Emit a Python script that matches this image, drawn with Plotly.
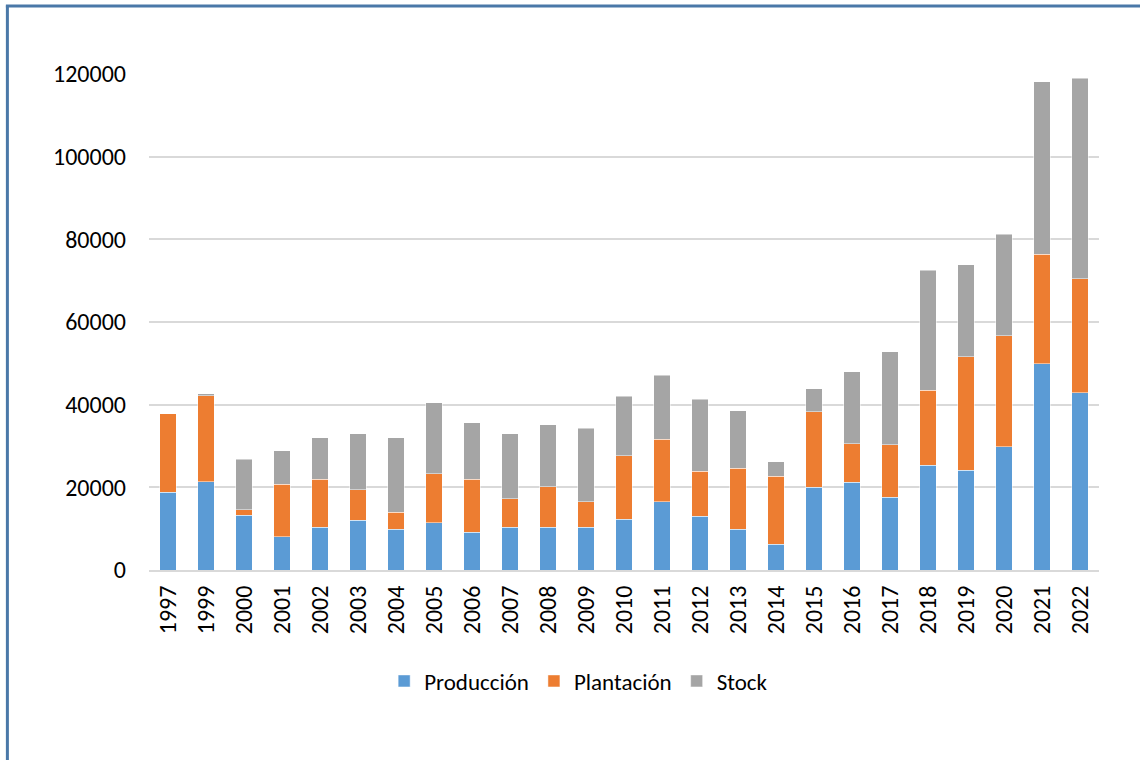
import plotly.graph_objects as go

years = ["1997", "1999", "2000", "2001", "2002", "2003", "2004", "2005", "2006",
         "2007", "2008", "2009", "2010", "2011", "2012", "2013", "2014", "2015",
         "2016", "2017", "2018", "2019", "2020", "2021", "2022"]

produccion = [18800, 21400, 13300, 8100, 10400, 12000, 9800, 11400, 9100,
              10400, 10400, 10400, 12300, 16500, 13000, 9800, 6200, 20000,
              21200, 17600, 25400, 24100, 29800, 49900, 42900]

plantacion = [19000, 20800, 1300, 12600, 11500, 7400, 4200, 11900, 12800,
              6800, 9700, 6100, 15400, 15100, 10900, 14800, 16500, 18300,
              9300, 12700, 18100, 27500, 26900, 26500, 27600]

stock = [0, 400, 12200, 8100, 10100, 13600, 18000, 17200, 13700,
         15800, 15100, 17800, 14300, 15500, 17400, 13900, 3500, 5500,
         17500, 22500, 29000, 22200, 24500, 41700, 48500]

series_names = ["Producción", "Plantación", "Stock"]
series_colors = ["#5B9BD5", "#ED7D31", "#A5A5A5"]
y_ticks = [0, 20000, 40000, 60000, 80000, 100000, 120000]

FONT = "Calibri, Carlito, Lato, 'Open Sans', sans-serif"
FS = 24

fig = go.Figure()
for name, vals, col in zip(series_names, [produccion, plantacion, stock], series_colors):
    fig.add_trace(go.Bar(
        x=years, y=vals, name=name,
        marker=dict(color=col, line=dict(color="rgba(255,255,255,0.6)", width=0.8)),
    ))

# plot-area geometry in pixels
L, R, T, B = 148.7, 1099.3, 74, 570
W, H = R - L, B - T

def px_x(p):
    return (p - L) / W

def px_y(p):
    return (B - p) / H

border_col = "#4A78A8"
shapes = [
    dict(type="line", xref="paper", yref="paper",
         x0=px_x(7), x1=px_x(7), y0=px_y(765), y1=px_y(5.5),
         line=dict(color=border_col, width=3)),
    dict(type="line", xref="paper", yref="paper",
         x0=px_x(5.5), x1=px_x(1145), y0=px_y(6), y1=px_y(6),
         line=dict(color=border_col, width=3)),
]

fig.update_layout(
    width=1140, height=760,
    margin=dict(l=L, r=1140 - R, t=T, b=760 - B, autoexpand=False),
    barmode="stack",
    bargap=0.56,
    paper_bgcolor="white",
    plot_bgcolor="white",
    font=dict(family=FONT, size=FS, color="#000000"),
    shapes=shapes,
    legend=dict(
        orientation="h",
        x=px_x(384), xanchor="left",
        y=px_y(681), yanchor="middle",
        font=dict(family=FONT, size=FS - 1, color="#000000"),
        traceorder="normal",
        itemwidth=30,
        bgcolor="rgba(0,0,0,0)",
    ),
    showlegend=True,
)

fig.update_yaxes(
    range=[0, 120000],
    tickvals=y_ticks,
    ticktext=[str(v) for v in y_ticks],
    showgrid=True, gridcolor="#D9D9D9", gridwidth=2,
    zeroline=False,
    showline=False,
    ticks="",
    ticklabelstandoff=22,
    tickfont=dict(family=FONT, size=FS, color="#000000"),
)

fig.update_xaxes(
    type="category",
    tickangle=-90,
    showline=True, linecolor="#D9D9D9", linewidth=2,
    showgrid=False,
    ticks="",
    ticklabelstandoff=4,
    tickfont=dict(family=FONT, size=FS, color="#000000"),
)

fig.write_html("out.html")
